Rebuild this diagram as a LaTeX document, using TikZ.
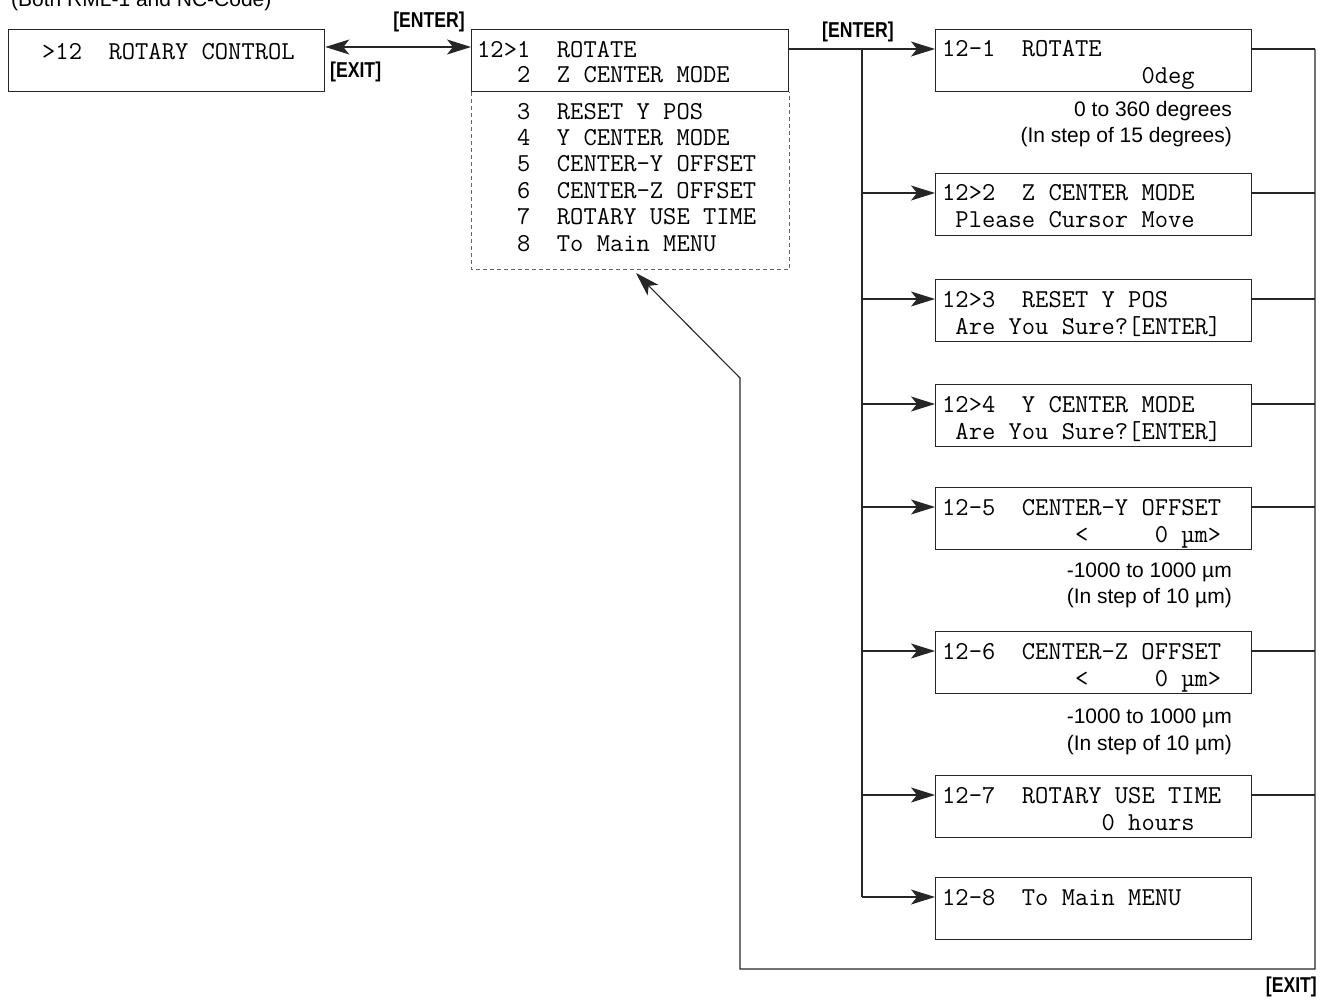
\documentclass[tikz,border=0pt]{standalone}
\usepackage{fontspec}
\setmainfont{Liberation Sans}
\newfontfamily\lblfont[FakeStretch=0.82]{Liberation Sans}
\usetikzlibrary{arrows.meta,calc}
\tikzset{
  lcd/.style={draw=black!85, line width=1.3pt, minimum width=317pt, minimum height=62pt, inner sep=0pt, anchor=north west},
  lcdtxt/.style={anchor=base west, inner sep=0pt, font=\ttfamily\fontsize{25.8}{27}\selectfont},
  note/.style={anchor=base east, inner sep=0pt, font=\fontsize{21}{24}\selectfont},
  keylbl/.style={inner sep=0pt, font=\lblfont\bfseries\fontsize{21.5}{24}\selectfont},
  wire/.style={draw=black!85, line width=1.1pt},
  arr/.style={wire, -{Stealth[length=24pt,width=15pt,inset=6pt]}},
  dblarr/.style={wire, {Stealth[length=24pt,width=15pt,inset=6pt]}-{Stealth[length=24pt,width=15pt,inset=6pt]}},
  dashpart/.style={draw=black!60, line width=1pt, dash pattern=on 4pt off 3pt}
}
\begin{document}
\begin{tikzpicture}[x=1pt,y=-1pt]
\useasboundingbox (0,0) rectangle (1331,1003);
\fill[white] (0,0) rectangle (1331,1003);

\node[anchor=base west, inner sep=0pt, font=\fontsize{21}{24}\selectfont] (hdr) at (11,7) {(Both RML-1 and NC-Code)};

% left box
\node[lcd, minimum width=316pt] (A) at (8,29) {};
\node[lcdtxt] (Atxt) at ($(A.north west)+(34,31)$) {>12~~ROTARY~CONTROL};

% menu box
\node[lcd] (B) at (471,29) {};
\draw[dashpart] (B.south west) -- ++(0,177) -| (B.south east);
\node[lcdtxt] (B1) at ($(B.north west)+(6,29)$) {12>1~~ROTATE};
\node[lcdtxt] (B2) at ($(B.north west)+(6,54)$) {~~~2~~Z~CENTER~MODE};
\foreach \i/\yy/\txt in {3/91/RESET~Y~POS, 4/117/Y~CENTER~MODE, 5/143/CENTER-Y~OFFSET, 6/170/CENTER-Z~OFFSET, 7/196/ROTARY~USE~TIME, 8/223/To~Main~MENU}{
  \node[lcdtxt] (B\i) at ($(B.north west)+(6,\yy)$) {~~~\i~~\txt};
}

% double arrow between A and B
\draw[dblarr] ($(A.north east)+(0,18)$) -- ($(B.north west)+(0,18)$);
\node[keylbl, anchor=base east] (ent1) at (465,28) {[ENTER]};
\node[keylbl, anchor=base west] (ext1) at (330,78) {[EXIT]};

% right boxes
\foreach \n/\t/\la/\lb in {
  1/29/{12-1~~ROTATE}/{~~~~~~~~~~~~~~~0deg},
  2/173/{12>2~~Z~CENTER~MODE}/{~Please~Cursor~Move},
  3/279/{12>3~~RESET~Y~POS}/{~Are~You~Sure?[ENTER]},
  4/384/{12>4~~Y~CENTER~MODE}/{~Are~You~Sure?[ENTER]},
  5/487/{12-5~~CENTER-Y~OFFSET}/{~~~~~~~~~~<~~~~~0~µm>},
  6/631/{12-6~~CENTER-Z~OFFSET}/{~~~~~~~~~~<~~~~~0~µm>},
  7/775/{12-7~~ROTARY~USE~TIME}/{~~~~~~~~~~~~0~hours},
  8/877/{12-8~~To~Main~MENU}/{}}{
  \node[lcd, minimum width=316pt] (R\n) at (935,\t) {};
  \node[lcdtxt] (R\n a) at ($(R\n.north west)+(7,28)$) {\la};
  \node[lcdtxt] (R\n b) at ($(R\n.north west)+(7,55)$) {\lb};
  \coordinate (R\n in) at ($(R\n.north west)+(0,20)$);
  \coordinate (R\n out) at ($(R\n.north east)+(0,20)$);
}

% bus and return
\coordinate (bus) at (862,49);
\coordinate (ret) at (1315,49);
\coordinate (retbot) at (1315,969);
\coordinate (upc) at (740,378);
\coordinate (Btip) at (636,273);

\draw[arr] ($(B.north east)+(0,20)$) -- (R1in);
\draw[wire] (bus) -- (bus |- R8in);
\foreach \n in {2,...,8}{
  \draw[arr] (bus |- R\n in) -- (R\n in);
}
\foreach \n in {1,...,7}{
  \draw[wire] (R\n out) -- (ret |- R\n out);
}
\draw[arr] (ret) -- (retbot) -- (retbot -| upc) -- (upc) -- (Btip);

\node[keylbl, anchor=base west] (ent2) at (822,38) {[ENTER]};
\node[keylbl, anchor=base east] (ext2) at (1317,992) {[EXIT]};

% notes
\node[note] (n1a) at (1232,117) {0 to 360 degrees};
\node[note] (n1b) at (1232,143) {(In step of 15 degrees)};
\node[note] (n5a) at (1232,577) {-1000 to 1000 µm};
\node[note] (n5b) at (1232,603) {(In step of 10 µm)};
\node[note] (n6a) at (1232,723) {-1000 to 1000 µm};
\node[note] (n6b) at (1232,750) {(In step of 10 µm)};
\end{tikzpicture}
\end{document}
